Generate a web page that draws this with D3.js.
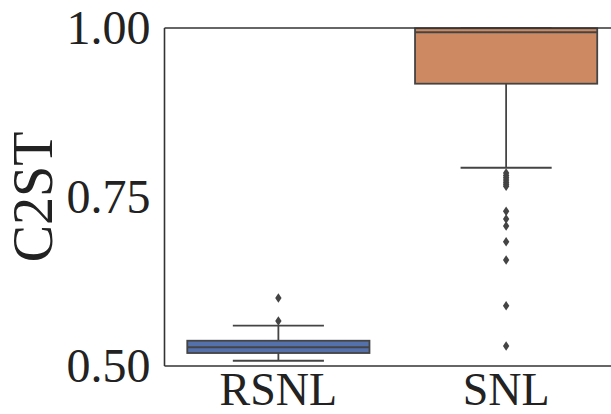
<!DOCTYPE html>
<html><head><meta charset="utf-8">
<script src="https://cdn.jsdelivr.net/npm/d3@7"></script>
<style>body{margin:0;background:#fff}</style>
</head><body>
<svg id="c" width="611" height="414"></svg>
<script>
const categories = ["RSNL", "SNL"];
const q1 = [0.5192, 0.9176];
const median = [0.5277, 0.9937];
const q3 = [0.5374, 0.9996];
const whiskerLow = [0.5078, 0.7933];
const whiskerHigh = [0.5596, 0.9996];
const outliersRSNL = [0.5666, 0.6006];
const outliersSNL = [0.7855, 0.7818, 0.7785, 0.7752, 0.7720, 0.7690, 0.7660, 0.7290, 0.7175, 0.7070, 0.6839, 0.6568, 0.5892, 0.5296];
const outliers = [outliersRSNL, outliersSNL];
const yTicks = [0.50, 0.75, 1.00];
const colors = ["#5471ab", "#cd8a62"];

(function () {
const svg = d3.select("#c");
const mLeft = 164.5, mTop = 28, mBottom = 366, mRight = 620;
const x = d3.scaleBand().domain(categories).range([mLeft, mRight]).paddingInner(0).paddingOuter(0);
const y = d3.scaleLinear().domain([0.5, 1.0]).range([mBottom, mTop]);
const lineC = "#444";
const font = "'Liberation Serif', 'Times New Roman', serif";

categories.forEach((c, i) => {
  const cx = x(c) + x.bandwidth() / 2;
  const bw = x.bandwidth() * 0.8;
  const capW = bw * 0.5;
  const g = svg.append("g");
  g.append("line").attr("x1", cx).attr("x2", cx).attr("y1", y(q1[i])).attr("y2", y(whiskerLow[i]))
    .attr("stroke", lineC).attr("stroke-width", 1.8);
  g.append("line").attr("x1", cx).attr("x2", cx).attr("y1", y(q3[i])).attr("y2", y(whiskerHigh[i]))
    .attr("stroke", lineC).attr("stroke-width", 1.8);
  [whiskerLow[i], whiskerHigh[i]].forEach(v => {
    g.append("line").attr("x1", cx - capW / 2).attr("x2", cx + capW / 2).attr("y1", y(v)).attr("y2", y(v))
      .attr("stroke", lineC).attr("stroke-width", 1.8);
  });
  g.append("rect").attr("x", cx - bw / 2).attr("width", bw)
    .attr("y", y(q3[i])).attr("height", y(q1[i]) - y(q3[i]))
    .attr("fill", colors[i]).attr("stroke", lineC).attr("stroke-width", 1.8);
  g.append("line").attr("x1", cx - bw / 2).attr("x2", cx + bw / 2).attr("y1", y(median[i])).attr("y2", y(median[i]))
    .attr("stroke", lineC).attr("stroke-width", 1.8);
  g.selectAll("path.o").data(outliers[i]).enter().append("path")
    .attr("d", d => `M${cx},${y(d) - 4.8}L${cx + 3.2},${y(d)}L${cx},${y(d) + 4.8}L${cx - 3.2},${y(d)}Z`)
    .attr("fill", lineC);
});

svg.append("line").attr("x1", mLeft).attr("x2", mLeft).attr("y1", mTop).attr("y2", mBottom).attr("stroke", "#333").attr("stroke-width", 1.6);
svg.append("line").attr("x1", mLeft).attr("x2", mRight).attr("y1", mTop).attr("y2", mTop).attr("stroke", "#333").attr("stroke-width", 1.6);
svg.append("line").attr("x1", mLeft).attr("x2", mRight).attr("y1", mBottom).attr("y2", mBottom).attr("stroke", "#333").attr("stroke-width", 1.6);

const yAxis = d3.axisLeft(y).tickValues(yTicks).tickFormat(d3.format(".2f")).tickSize(0).tickPadding(14);
const ya = svg.append("g").attr("transform", `translate(${mLeft},0)`).call(yAxis);
ya.select(".domain").remove();
ya.selectAll("text").attr("font-family", font).attr("font-size", 48).attr("fill", "#222");

const xAxis = d3.axisBottom(x).tickSize(0).tickPadding(6);
const xa = svg.append("g").attr("transform", `translate(0,${mBottom})`).call(xAxis);
xa.select(".domain").remove();
xa.selectAll("text").attr("font-family", font).attr("font-size", 46).attr("fill", "#222");

svg.append("text").attr("transform", `translate(52,${(mTop + mBottom) / 2}) rotate(-90)`)
  .attr("text-anchor", "middle").attr("font-family", font).attr("font-size", 56).attr("fill", "#222")
  .text("C2ST");
})();
</script>
</body></html>
